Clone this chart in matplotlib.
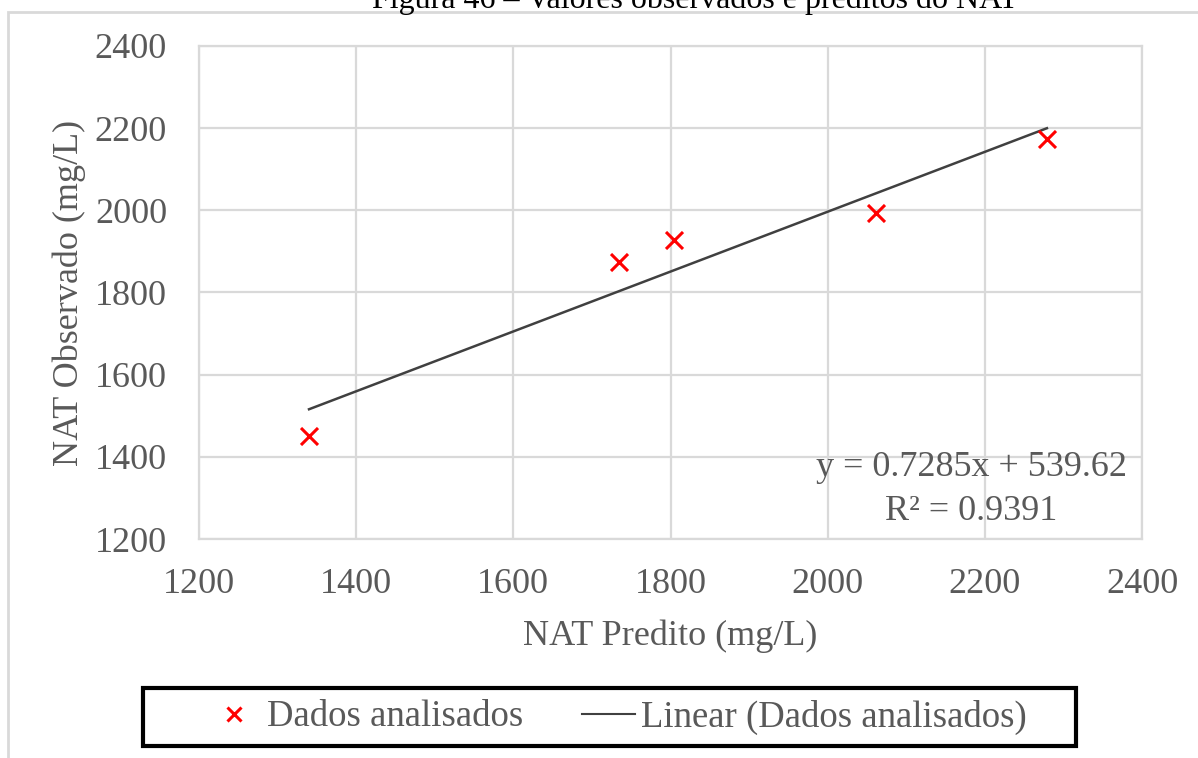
import matplotlib
matplotlib.use("Agg")
import matplotlib.pyplot as plt
from matplotlib.lines import Line2D
from matplotlib.patches import Rectangle
import numpy as np

plt.rcParams['font.family'] = ['Liberation Serif', 'DejaVu Serif']

# Observed vs predicted NAT (mg/L)
nat_predito = [1340, 1735, 1804, 2062, 2279]
nat_observado = [1450, 1875, 1927, 1994, 2173]

# Linear trendline reported on the chart
slope = 0.7285
intercept = 539.62
r2 = 0.9391

x_ticks = [1200, 1400, 1600, 1800, 2000, 2200, 2400]
y_ticks = [1200, 1400, 1600, 1800, 2000, 2200, 2400]

W, H = 1198, 758
fig = plt.figure(figsize=(W / 100, H / 100), dpi=100)

grid_c = '#d9d9d9'
text_c = '#595959'
fs = 26

ax = fig.add_axes([199 / W, 1 - 539 / H, (1142 - 199) / W, (539 - 46) / H])
ax.set_xlim(1200, 2400)
ax.set_ylim(1200, 2400)
ax.set_xticks(x_ticks)
ax.set_yticks(y_ticks)
ax.grid(True, color=grid_c, linewidth=1.6)
ax.set_axisbelow(True)
for s in ax.spines.values():
    s.set_color(grid_c)
    s.set_linewidth(1.6)
ax.tick_params(length=0, labelsize=fs, labelcolor=text_c)
ax.tick_params(axis='x', pad=21)
ax.tick_params(axis='y', pad=23)

ax.scatter(nat_predito, nat_observado, marker='x', s=150, color='#ff0000',
           linewidths=2.2, zorder=3)

xf = np.array([min(nat_predito), max(nat_predito)])
ax.plot(xf, slope * xf + intercept, color='#404040', linewidth=1.8, zorder=2)

# Trendline equation and R², centred under the upper-right of the plot
ax.text(2183, 1375, f"y = {slope}x + {intercept}", ha='center', va='center',
        fontsize=fs, color=text_c)
ax.text(2183, 1268, f"R² = {r2}", ha='center', va='center',
        fontsize=fs, color=text_c)

ax.set_xlabel("NAT Predito (mg/L)", fontsize=fs, color=text_c, labelpad=13)
ax.set_ylabel("NAT Observado (mg/L)", fontsize=fs, color=text_c, labelpad=6.5)

# Outer chart-area border
fig.patches.append(Rectangle((8 / W, -0.2), 1.2, 1 - 12 / H + 0.2,
                             transform=fig.transFigure, fill=False,
                             edgecolor=grid_c, linewidth=2.0, zorder=0))

# Figure caption sitting above the chart area
fig.text(695 / W, 1 - 8 / H, "Figura 46 – Valores observados e preditos do NAT",
         ha='center', va='baseline', fontsize=23, color='black')

# Legend with its framed box
fig.patches.append(Rectangle((143 / W, 1 - 746 / H), (1076 - 143) / W,
                             (746 - 688) / H, transform=fig.transFigure,
                             fill=False, edgecolor='black', linewidth=3.0,
                             zorder=5))
handles = [
    Line2D([], [], marker='x', linestyle='none', color='#ff0000',
           markersize=10, markeredgewidth=2.2),
    Line2D([], [], color='#404040', linewidth=1.5),
]
fig.legend(handles, ["Dados analisados", "Linear (Dados analisados)"],
           loc='center', bbox_to_anchor=(617 / W, 1 - 717 / H),
           ncol=2, frameon=False, fontsize=26.5, labelcolor=text_c,
           handlelength=1.45, handletextpad=0.15, columnspacing=1.6)

fig.savefig("out.png", dpi=100)
